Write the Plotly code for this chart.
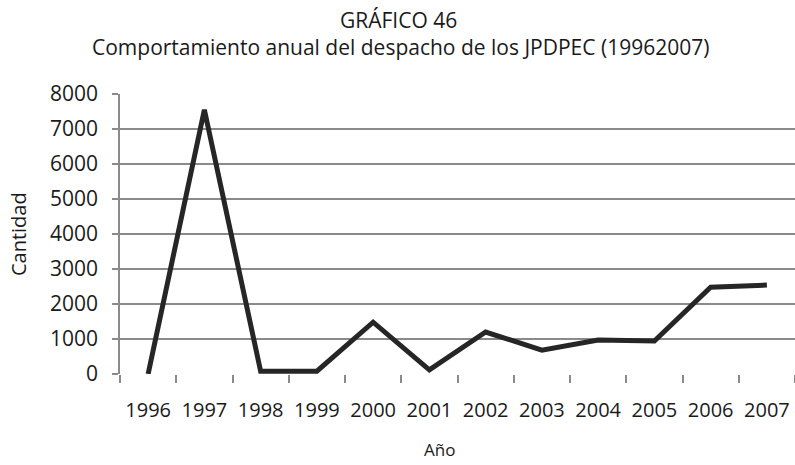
import plotly.graph_objects as go

years = ["1996", "1997", "1998", "1999", "2000", "2001", "2002", "2003", "2004", "2005", "2006", "2007"]
cantidad = [0, 7550, 80, 80, 1480, 120, 1200, 680, 970, 940, 2480, 2540]
y_ticks = [0, 1000, 2000, 3000, 4000, 5000, 6000, 7000, 8000]

FONT = "Open Sans, sans-serif"
TXT = "#1a1a1a"

fig = go.Figure()
fig.add_trace(go.Scatter(
    x=years, y=cantidad, mode="lines",
    line=dict(color="#262626", width=5),
    showlegend=False,
))

fig.update_layout(
    width=795, height=465,
    margin=dict(l=120, r=0, t=94, b=91, autoexpand=False),
    paper_bgcolor="white", plot_bgcolor="white",
    font=dict(family=FONT, size=19, color=TXT),
)

fig.update_xaxes(
    type="category", categoryorder="array", categoryarray=years,
    range=[-0.5, 11.5], automargin=False,
    tickson="boundaries", ticks="outside", ticklen=8, tickcolor="#8a8a8a", tickwidth=1.5,
    showgrid=False, showline=False,
    tickfont=dict(family=FONT, size=20, color=TXT),
    ticklabelstandoff=22,
)

fig.update_yaxes(
    range=[0, 8000], tickvals=y_ticks, automargin=False,
    showgrid=True, gridcolor="#8a8a8a", gridwidth=1.5,
    showline=True, linecolor="#8a8a8a", linewidth=1.5,
    ticks="outside", ticklen=6, tickcolor="#8a8a8a", tickwidth=1.5,
    zeroline=False,
    tickfont=dict(family=FONT, size=21, color=TXT),
    ticklabelstandoff=10,
)

annots = [
    dict(text="GRÁFICO 46", x=0.413, y=1.264, size=21, anchor="middle"),
    dict(text="Comportamiento anual del despacho de los JPDPEC (19962007)", x=0.415, y=1.168, size=21, anchor="middle"),
    dict(text="Año", x=0.473, y=-0.318, size=17, anchor="bottom"),
]
for a in annots:
    fig.add_annotation(text=a["text"], x=a["x"], y=a["y"], xref="paper", yref="paper",
                       xanchor="center", yanchor=a["anchor"], showarrow=False,
                       font=dict(family=FONT, size=a["size"], color=TXT))
fig.add_annotation(text="Cantidad", x=-0.151, y=0.5, xref="paper", yref="paper",
                   xanchor="center", yanchor="middle", showarrow=False, textangle=-90,
                   font=dict(family=FONT, size=20, color=TXT))

fig.write_html(
    "out.html",
    config={"displayModeBar": False},
    post_script="document.body.style.margin='0';document.body.style.overflow='hidden';",
)
